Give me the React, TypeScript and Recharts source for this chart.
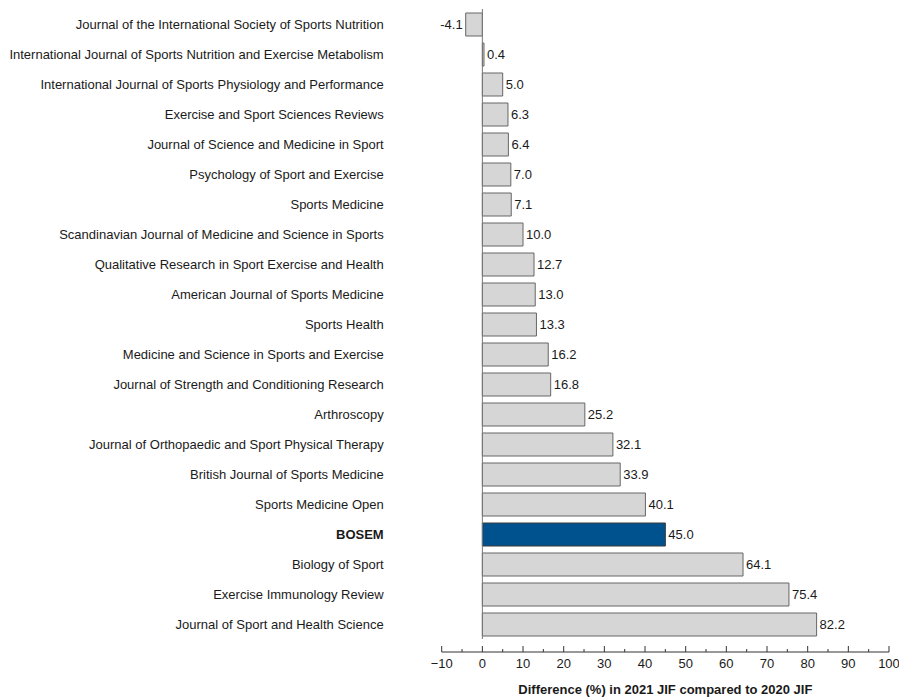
import React from 'react';
import { BarChart, Bar, XAxis, YAxis, Cell, LabelList, ReferenceLine } from 'recharts';

const journals = [
  'Journal of the International Society of Sports Nutrition',
  'International Journal of Sports Nutrition and Exercise Metabolism',
  'International Journal of Sports Physiology and Performance',
  'Exercise and Sport Sciences Reviews',
  'Journal of Science and Medicine in Sport',
  'Psychology of Sport and Exercise',
  'Sports Medicine',
  'Scandinavian Journal of Medicine and Science in Sports',
  'Qualitative Research in Sport Exercise and Health',
  'American Journal of Sports Medicine',
  'Sports Health',
  'Medicine and Science in Sports and Exercise',
  'Journal of Strength and Conditioning Research',
  'Arthroscopy',
  'Journal of Orthopaedic and Sport Physical Therapy',
  'British Journal of Sports Medicine',
  'Sports Medicine Open',
  'BOSEM',
  'Biology of Sport',
  'Exercise Immunology Review',
  'Journal of Sport and Health Science',
];

const changes = [-4.1, 0.4, 5.0, 6.3, 6.4, 7.0, 7.1, 10.0, 12.7, 13.0, 13.3, 16.2, 16.8, 25.2, 32.1, 33.9, 40.1, 45.0, 64.1, 75.4, 82.2];

const highlight = 'BOSEM';

const xTicks = [-10, -5, 0, 5, 10, 15, 20, 25, 30, 35, 40, 45, 50, 55, 60, 65, 70, 75, 80, 85, 90, 95, 100];

const data = journals.map((name, i) => ({ name, change: changes[i] }));

const FONT = '"Liberation Sans", Arial, Helvetica, sans-serif';

const JournalTick = (props: any) => {
  const { x, y, payload } = props;
  const bold = payload.value === highlight;
  return (
    <text x={x} y={y} dy="0.35em" textAnchor="end" fontSize={13} fontFamily={FONT}
      fill="#1a1a1a" fontWeight={bold ? 'bold' : 'normal'}>
      {payload.value}
    </text>
  );
};

const AxisTick = (props: any) => {
  const { x, y, payload } = props;
  const v = payload.value;
  const major = v % 10 === 0;
  return (
    <g>
      <line x1={x} x2={x} y1={y} y2={y - (major ? 6 : 3)} stroke="#333" strokeWidth={1} />
      {major && (
        <text x={x} y={y + 16} textAnchor="middle" fontSize={13} fontFamily={FONT} fill="#1a1a1a">
          {v < 0 ? `\u2212${Math.abs(v)}` : v}
        </text>
      )}
    </g>
  );
};

const ValueLabel = (props: any) => {
  const { x, y, width, height, value } = props;
  const end = x + width;
  const neg = value < 0;
  return (
    <text x={neg ? end - 3 : end + 3} y={y + height / 2} dy="0.35em" textAnchor={neg ? 'end' : 'start'}
      fontSize={13} fontFamily={FONT} fill="#1a1a1a">
      {value.toFixed(1)}
    </text>
  );
};

export default function App() {
  return (
    <div style={{ position: 'absolute', left: 0, top: 0, width: 899, height: 698, background: '#fff' }}>
      <BarChart width={899} height={698} data={data} layout="vertical"
        margin={{ top: 9, right: 10, bottom: 0, left: 0 }} barSize={23}>
        {/* spacer axis: keeps the visible axis a little below the bars */}
        <XAxis xAxisId="gap" type="number" domain={[-10, 100]}
          height={13} tick={false} axisLine={false} tickLine={false} />
        <XAxis xAxisId="shown" type="number" domain={[-10, 100]} ticks={xTicks} interval={0}
          height={46} tick={<AxisTick />} tickLine={false} tickSize={0} tickMargin={0}
          axisLine={{ stroke: '#333', strokeWidth: 1 }}
          label={{ value: 'Difference (%) in 2021 JIF compared to 2020 JIF', position: 'insideBottom', offset: 4,
            style: { fontSize: 13, fontWeight: 'bold', fontFamily: FONT, fill: '#1a1a1a' } }} />
        <YAxis type="category" dataKey="name" width={441.7} interval={0}
          axisLine={false} tickLine={false} tickSize={0} tickMargin={58} tick={<JournalTick />} />
        <ReferenceLine xAxisId="shown" x={0} stroke="#777" strokeWidth={1} />
        <Bar xAxisId="shown" dataKey="change" isAnimationActive={false} stroke="#666" strokeWidth={1}>
          {data.map((d) => (
            <Cell key={d.name} fill={d.name === highlight ? '#00528e' : '#d6d6d6'}
              stroke={d.name === highlight ? '#3a3a3a' : '#666'} />
          ))}
          <LabelList dataKey="change" content={<ValueLabel />} />
        </Bar>
      </BarChart>
    </div>
  );
}
